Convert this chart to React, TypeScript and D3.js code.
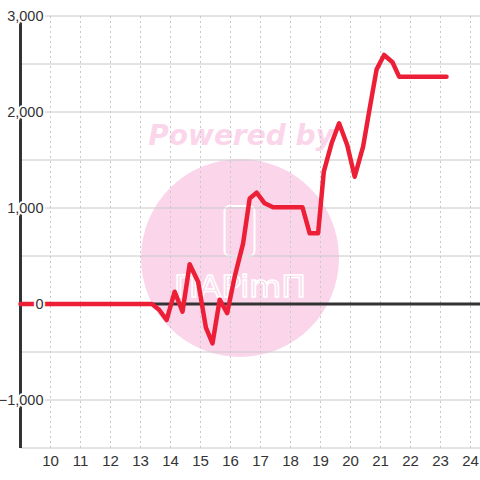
import React from "react";
import * as d3 from "d3";

const xValues = [9, 13.38, 13.62, 13.87, 14.14, 14.4, 14.64, 14.92, 15.18, 15.4, 15.64, 15.89, 16.14, 16.42, 16.64, 16.87, 17.14, 17.42, 18.4, 18.64, 18.92, 19.11, 19.37, 19.62, 19.89, 20.14, 20.42, 20.64, 20.87, 21.12, 21.4, 21.62, 23.2];
const yValues = [0, 0, -60, -167, 128, -80, 415, 232, -245, -410, 45, -95, 285, 632, 1100, 1160, 1049, 1007, 1007, 736, 736, 1378, 1674, 1882, 1656, 1326, 1639, 2038, 2444, 2594, 2518, 2368, 2368];
const xTicks = [10, 11, 12, 13, 14, 15, 16, 17, 18, 19, 20, 21, 22, 23, 24];
const yGrid = [-1500, -1000, -500, 0, 500, 1000, 1500, 2000, 2500, 3000];
const yLabels = [-1000, 0, 1000, 2000, 3000];

const W = 480, H = 480;
const left = 20.5, right = 480, top = 16, bottom = 448;

export default function App() {
  const x = d3.scaleLinear().domain([9, 9 + (right - left) / 30]).range([left, right]);
  const y = d3.scaleLinear().domain([-1500, 3000]).range([bottom, top]);
  const pts: [number, number][] = xValues.map((v, i) => [v, yValues[i]]);
  const line = d3.line<[number, number]>().x(d => x(d[0])).y(d => y(d[1]));
  const fmt = d3.format(",");
  const font = "'Liberation Sans', Arial, sans-serif";
  return (
    <svg width={W} height={H} style={{ position: "absolute", left: 0, top: 0, background: "#fff" }}>
      <rect x={0} y={0} width={W} height={H} fill="#ffffff" />
      {/* watermark */}
      <circle cx={240} cy={258} r={99} fill="#fbd6eb" />
      <text x={241} y={145} textAnchor="middle" fontFamily="'DejaVu Sans', sans-serif" fontWeight="bold" fontStyle="italic" fontSize={28} fill="#fbd6eb">Powered by</text>
      <rect x={224.5} y={206} width={30} height={50} rx={5} fill="none" stroke="#ffffff" strokeWidth={2} />
      <text x={240} y={297} textAnchor="middle" fontFamily="'DejaVu Sans', sans-serif" fontSize={30} fill="none" stroke="#ffffff" strokeWidth={1.5} textLength={132} lengthAdjust="spacingAndGlyphs">ΠAPimΠ</text>
      {/* grid */}
      {xTicks.map(t => (
        <line key={"vx" + t} x1={x(t)} x2={x(t)} y1={top} y2={bottom} stroke="#c8c8c8" strokeWidth={1} strokeDasharray="2,3" />
      ))}
      {yGrid.map(t => (
        <line key={"hy" + t} x1={left} x2={right} y1={y(t)} y2={y(t)} stroke="#c8c8c8" strokeWidth={1} />
      ))}
      {/* zero line and axis */}
      <line x1={left} x2={right} y1={y(0)} y2={y(0)} stroke="#333" strokeWidth={3} />
      <line x1={left} x2={left} y1={top} y2={bottom} stroke="#333" strokeWidth={3} />
      {/* data line */}
      <path d={line(pts) || ""} fill="none" stroke="#ec1f37" strokeWidth={4.5} strokeLinejoin="round" strokeLinecap="round" />
      {/* y labels */}
      {yLabels.map(t => (
        <text key={"yl" + t} x={43.5} y={y(t)} dy="0.36em" textAnchor="end" fontFamily={font} fontSize={14.5} fill="#333" stroke="#ffffff" strokeWidth={4} paintOrder="stroke" strokeLinejoin="round">{fmt(t)}</text>
      ))}
      {/* x labels */}
      {xTicks.map(t => (
        <text key={"xl" + t} x={x(t)} y={466} textAnchor="middle" fontFamily={font} fontSize={15} fill="#333">{t}</text>
      ))}
    </svg>
  );
}
